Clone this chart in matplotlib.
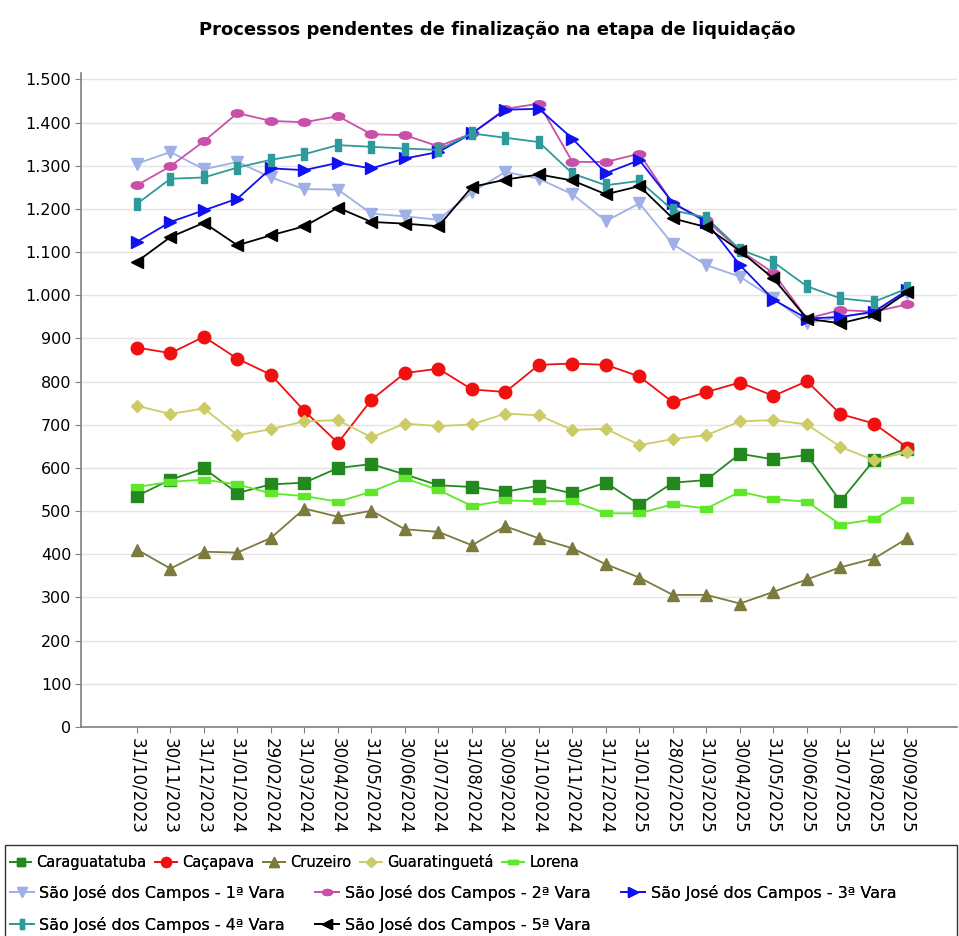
# Line chart: processos pendentes de finalizacao na etapa de liquidacao

import numpy as np
import matplotlib
matplotlib.use('Agg')
import matplotlib.pyplot as plt
from matplotlib.patches import Rectangle
from matplotlib.ticker import FuncFormatter

# ---------------------------------------------
# Data
# ---------------------------------------------

dates = ['31/10/2023', '30/11/2023', '31/12/2023', '31/01/2024', '29/02/2024',
         '31/03/2024', '30/04/2024', '31/05/2024', '30/06/2024', '31/07/2024',
         '31/08/2024', '30/09/2024', '31/10/2024', '30/11/2024', '31/12/2024',
         '31/01/2025', '28/02/2025', '31/03/2025', '30/04/2025', '31/05/2025',
         '30/06/2025', '31/07/2025', '31/08/2025', '30/09/2025']

caraguatatuba = [535, 573, 599, 542, 562, 566, 600, 609, 585, 560, 556, 545,
                 559, 541, 566, 515, 566, 572, 633, 620, 630, 523, 618, 645]
cacapava = [879, 866, 904, 853, 816, 732, 658, 758, 820, 830, 782, 776,
            839, 842, 839, 812, 752, 776, 798, 767, 801, 725, 703, 647]
cruzeiro = [411, 367, 406, 404, 438, 506, 487, 501, 458, 452, 421, 465,
            437, 414, 377, 346, 306, 306, 286, 313, 342, 370, 390, 437]
guaratingueta = [744, 725, 738, 676, 690, 708, 711, 671, 703, 697, 701, 726,
                 722, 688, 691, 653, 667, 676, 708, 711, 701, 649, 618, 637]
lorena = [556, 568, 573, 562, 541, 535, 522, 545, 576, 549, 512, 525,
          523, 523, 495, 495, 516, 506, 545, 528, 522, 469, 481, 525]
sjc_1 = [1305, 1332, 1292, 1309, 1273, 1246, 1245, 1189, 1183, 1175, 1239, 1286,
         1270, 1234, 1172, 1213, 1118, 1070, 1043, 993, 935, 950, 960, 1005]
sjc_2 = [1255, 1299, 1357, 1422, 1404, 1401, 1415, 1373, 1371, 1345, 1375, 1432,
         1444, 1309, 1309, 1328, 1212, 1174, 1104, 1052, 946, 966, 962, 979]
sjc_3 = [1124, 1170, 1197, 1224, 1294, 1290, 1307, 1294, 1317, 1332, 1375, 1430,
         1432, 1363, 1283, 1313, 1214, 1170, 1070, 990, 946, 950, 962, 1012]
sjc_4 = [1212, 1270, 1273, 1296, 1314, 1327, 1348, 1344, 1340, 1337, 1375, 1365,
         1355, 1282, 1255, 1265, 1197, 1180, 1106, 1077, 1021, 993, 985, 1016]
sjc_5 = [1078, 1135, 1168, 1116, 1139, 1160, 1203, 1170, 1166, 1160, 1251, 1268,
         1280, 1266, 1234, 1253, 1178, 1158, 1103, 1039, 946, 935, 954, 1008]

# ---------------------------------------------
# Marker shapes (JFreeChart-like)
# ---------------------------------------------

ang = np.linspace(0, 2 * np.pi, 30)
ellipse = list(zip(np.cos(ang), 0.6 * np.sin(ang)))
flat_rect = [(-1, -0.45), (1, -0.45), (1, 0.45), (-1, 0.45), (-1, -0.45)]
tall_rect = [(-0.45, -1), (0.45, -1), (0.45, 1), (-0.45, 1), (-0.45, -1)]

# name, values, colour, marker, marker size
series = [
    ('Caraguatatuba', caraguatatuba, '#23891f', 's', 8),
    ('Caçapava', cacapava, '#f01010', 'o', 9),
    ('Cruzeiro', cruzeiro, '#7d7a3e', '^', 8.5),
    ('Guaratinguetá', guaratingueta, '#cccc66', 'D', 6.5),
    ('Lorena', lorena, '#5fe82a', flat_rect, 9),
    ('São José dos Campos - 1ª Vara', sjc_1, '#9fb0e4', 'v', 8.5),
    ('São José dos Campos - 2ª Vara', sjc_2, '#c850a8', ellipse, 9),
    ('São José dos Campos - 3ª Vara', sjc_3, '#1010f0', '>', 8.5),
    ('São José dos Campos - 4ª Vara', sjc_4, '#2f9a9a', tall_rect, 9),
    ('São José dos Campos - 5ª Vara', sjc_5, '#000000', '<', 8.5),
]

# ---------------------------------------------
# Figure
# ---------------------------------------------

plt.rcParams['font.family'] = ['DejaVu Sans']

fig = plt.figure(figsize=(9.59, 9.36), dpi=100)
ax = fig.add_axes([81 / 959, 1 - 727 / 936, 876 / 959, 654 / 936])

x = np.arange(len(dates))
lines = []
for name, vals, col, mk, ms in series:
    ln, = ax.plot(x, vals, color=col, marker=mk, markersize=ms,
                  markeredgecolor=col, linewidth=1.3, label=name)
    lines.append(ln)

# Axes and grid

ax.set_xlim(-1.67, 24.48)
ax.set_ylim(0, 1515)
ax.set_yticks(np.arange(0, 1501, 100))
ax.yaxis.set_major_formatter(FuncFormatter(lambda v, p: '{:,.0f}'.format(v).replace(',', '.')))
ax.set_xticks(x)
ax.set_xticklabels(dates, rotation=-90, fontsize=12)
ax.tick_params(axis='y', labelsize=11.5, length=4, color='#808080', pad=3)
ax.tick_params(axis='x', length=4, color='#808080', pad=4)
ax.grid(axis='y', color='#e4e4e4', linewidth=1.0)
ax.set_axisbelow(True)
for s in ['top', 'right']:
    ax.spines[s].set_visible(False)
for s in ['left', 'bottom']:
    ax.spines[s].set_color('#808080')
    ax.spines[s].set_linewidth(1.2)

# Title

fig.text(0.518, 1 - 30 / 936, 'Processos pendentes de finalização na etapa de liquidação',
         ha='center', va='center', fontsize=13, fontweight='bold')

# Legend: box with three rows of entries

fig.patches.append(Rectangle((5 / 959, -0.05), 952 / 959, 0.0972 + 0.05,
                             transform=fig.transFigure, fill=False,
                             edgecolor='#333333', linewidth=1.0))

rows = [lines[0:5], lines[5:8], lines[8:10]]
row_y = [1 - 862 / 936, 1 - 893 / 936, 1 - 925 / 936]
row_fs = [10.5, 11.5, 11.5]
row_cs = [0.6, 1.9, 1.9]
for hs, yy, fs, cs in zip(rows, row_y, row_fs, row_cs):
    leg = fig.legend(handles=hs, loc='center left', bbox_to_anchor=(0.01, yy),
                     ncol=len(hs), frameon=False, fontsize=fs, handlelength=1.5,
                     handletextpad=0.35, columnspacing=cs, borderpad=0,
                     borderaxespad=0, markerscale=0.8)
    fig.add_artist(leg)

plt.savefig('out.png', dpi=100)
